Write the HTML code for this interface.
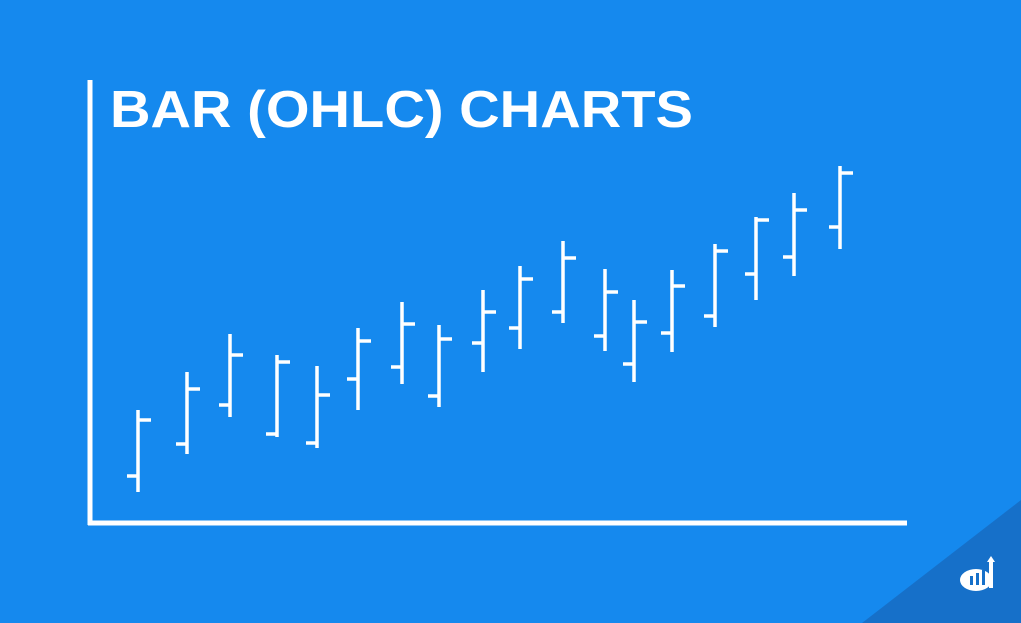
<!DOCTYPE html>
<html><head><meta charset="utf-8"><style>
html,body{margin:0;padding:0;background:#1589ee;}
svg{display:block;}
</style></head><body>
<svg id="chart" width="1021" height="623" viewBox="0 0 1021 623" xmlns="http://www.w3.org/2000/svg">
<rect x="0" y="0" width="1021" height="623" fill="#1589ee"/>
<polygon points="1021,500 1021,623 862,623" fill="#1670c9"/>
<text x="110" y="127" fill="#fff" font-family="Liberation Sans, sans-serif" font-weight="bold" font-size="52" textLength="583" lengthAdjust="spacingAndGlyphs">BAR (OHLC) CHARTS</text>
<line x1="90" y1="80" x2="90" y2="525" stroke="#fff" stroke-width="5"/>
<line x1="88" y1="523" x2="907" y2="523" stroke="#fff" stroke-width="5"/>
<g id="bars"></g>
<g transform="translate(990,580)">
<ellipse cx="-14" cy="0" rx="16" ry="11" fill="#fff"/>
<rect x="-20" y="-4" width="3" height="9" fill="#1670c9"/>
<rect x="-14" y="-7" width="3" height="12" fill="#1670c9"/>
<rect x="-8" y="-10" width="3" height="15" fill="#1670c9"/>
<rect x="-1" y="-18" width="4" height="26" fill="#fff"/>
<polygon points="-3,-18 1,-24 5,-18" fill="#fff"/>
</g>
</svg>
<script>
const times = [0,49,92,139,179,220,264,301,345,382,425,467,496,534,577,618,656,702];
const highs = [112,150,188,167,156,194,220,197,232,256,281,253,222,252,278,305,329,356];
const lows  = [30,68,105,85,74,112,138,115,150,173,199,171,140,170,195,222,246,273];
const opens = [46,78,117,88,79,143,155,126,179,194,210,186,158,189,206,248,265,295];
const closes= [102,133,167,160,127,181,198,183,210,243,264,230,200,236,271,302,312,349];
const NS='http://www.w3.org/2000/svg';
function xScale(t){return 138+t;}
function yScale(v){return 522-v;}
const g=document.getElementById('bars');
function ln(x1,y1,x2,y2){const l=document.createElementNS(NS,'line');l.setAttribute('x1',x1);l.setAttribute('y1',y1);l.setAttribute('x2',x2);l.setAttribute('y2',y2);l.setAttribute('stroke','#fff');l.setAttribute('stroke-width','3.5');return l;}
times.forEach((t,i)=>{
  const x=xScale(t);
  const bar=document.createElementNS(NS,'g');
  
  
  bar.appendChild(ln(x,yScale(highs[i]),x,yScale(lows[i])));
  bar.appendChild(ln(x-11,yScale(opens[i]),x,yScale(opens[i])));
  bar.appendChild(ln(x,yScale(closes[i]),x+13,yScale(closes[i])));
  g.appendChild(bar);
});
</script>
</body></html>
